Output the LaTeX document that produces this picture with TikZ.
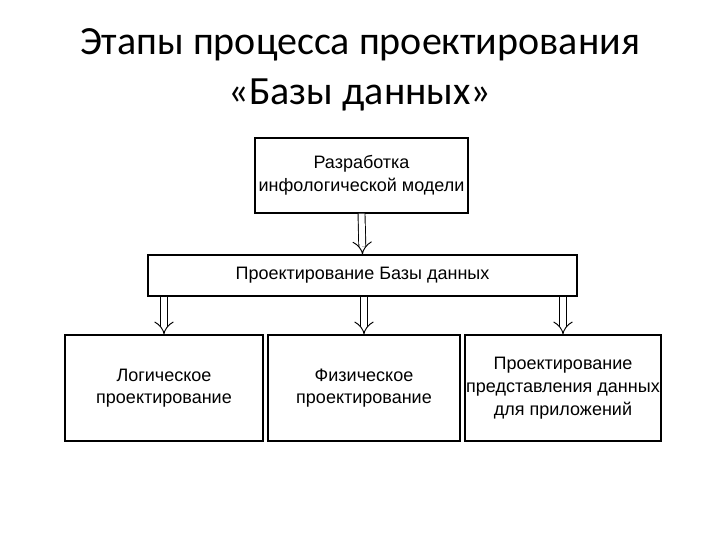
\documentclass[tikz,border=0pt]{standalone}
\usepackage{fontspec}
\setmainfont{Liberation Sans}
\newfontfamily\titlefont{Carlito}
\usetikzlibrary{arrows.meta}
\begin{document}
\begin{tikzpicture}[x=0.75pt,y=-0.75pt,
  box/.style={draw,line width=1pt,inner sep=0pt,align=center,font=\fontsize{13.5}{17}\selectfont},
  dar/.style={double,double distance=4.5pt,line width=0.7pt,-{Implies[length=6pt]}}]
\useasboundingbox (0,0) rectangle (720,540);
\node[font=\titlefont\fontsize{30}{37.5}\selectfont,align=center] (t) at (360,70) {Этапы процесса проектирования\\«Базы данных»};
\node[box,minimum width=213*0.75pt,minimum height=75*0.75pt] (a) at (361.5,175.5) {Разработка\\инфологической модели};
\node[box,minimum width=429*0.75pt,minimum height=41*0.75pt] (b) at (362.5,275.5) {Проектирование Базы данных};
\node[box,minimum width=198*0.75pt,minimum height=106*0.75pt] (c1) at (164,388) {Логическое\\проектирование};
\node[box,minimum width=192*0.75pt,minimum height=106*0.75pt] (c2) at (364,388) {Физическое\\проектирование};
\node[box,minimum width=196*0.75pt,minimum height=106*0.75pt] (c3) at (563,388) {Проектирование\\представления данных\\для приложений};
\draw[dar] (a.south) -- (b.north);
\draw[dar] (b.south -| c1) -- (c1.north);
\draw[dar] (b.south -| c2) -- (c2.north);
\draw[dar] (b.south -| c3) -- (c3.north);
\end{tikzpicture}
\end{document}
